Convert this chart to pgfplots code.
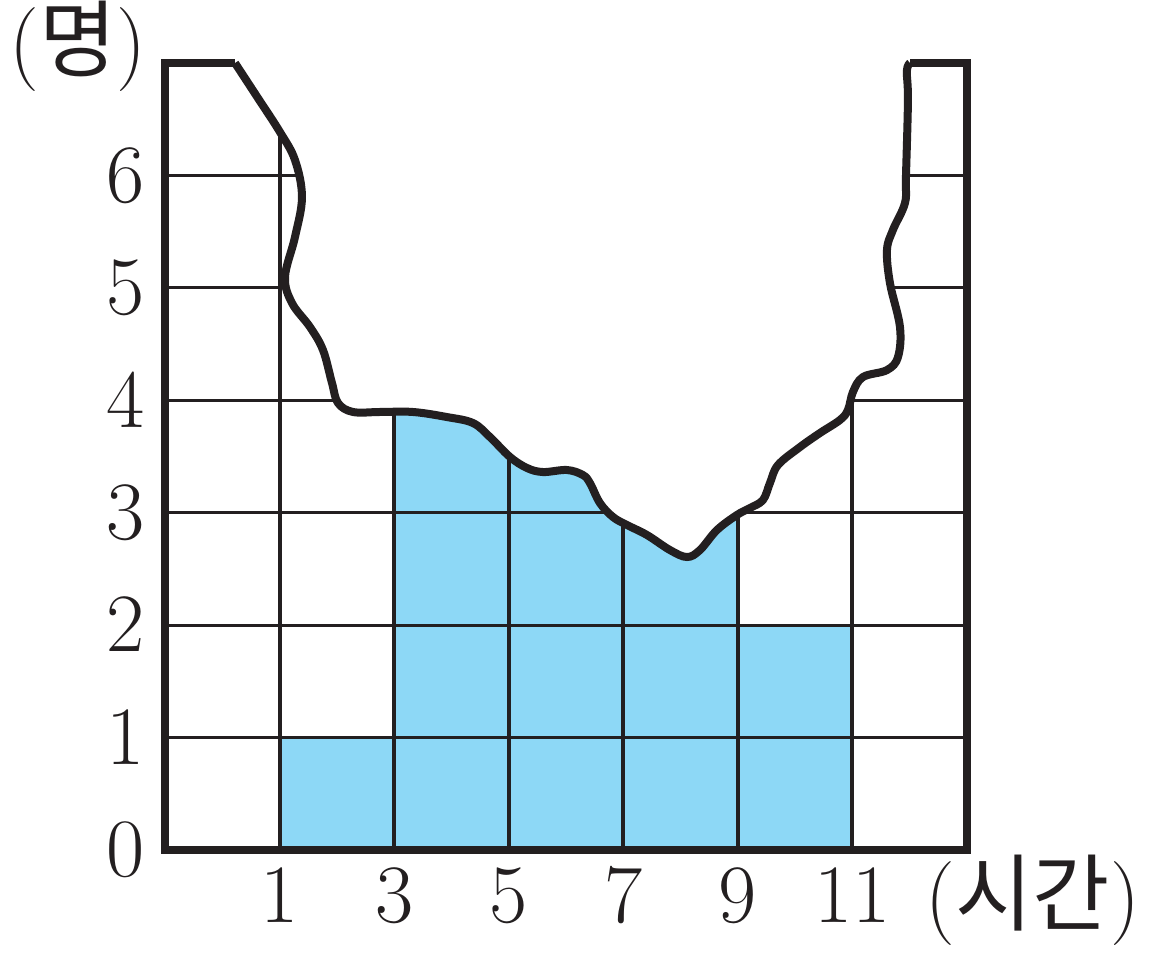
\documentclass[border=0pt]{standalone}
\usepackage{fontspec}
\usepackage{pgfplots}
\pgfplotsset{compat=1.18}
\newfontfamily\cjk{Noto Sans CJK KR}
\definecolor{barblue}{RGB}{141,216,246}
\definecolor{ink}{RGB}{35,31,32}

\begin{document}
\begin{tikzpicture}[x=1pt,y=1pt]
\path[use as bounding box] (-41.25,-26.25) rectangle (246.75,212.5);
\begin{axis}[
  at={(0,0)}, anchor=south west,
  scale only axis, width=200.5pt, height=196.75pt,
  xmin=-1, xmax=13, ymin=0, ymax=7,
  xtick={1,3,5,7,9,11}, ytick={0,1,2,3,4,5,6},
  axis line style={draw=none}, tick style={draw=none}, major tick length=0pt,
  clip=false,
  tick label style={font=\fontsize{22}{24}\selectfont, text=ink, inner sep=0pt},
  xticklabel style={anchor=north, yshift=-4.5pt},
  yticklabel style={anchor=east, xshift=-5pt},
]
% histogram bars
\addplot[fill=barblue, draw=none, const plot] coordinates {(1,1) (3,4) (5,4) (7,3.2) (9,2) (11,2)} \closedcycle;
% horizontal grid lines
\pgfplotsinvokeforeach{1,2,3,4,5,6}{
  \addplot[ink, line width=0.75pt] coordinates {(-1,#1) (13,#1)};
}
% vertical grid lines
\pgfplotsinvokeforeach{1,3,5,7,9,11}{
  \addplot[ink, line width=1pt] coordinates {(#1,0) (#1,7)};
}
% torn region (white)
\addplot[fill=white, draw=none, smooth, tension=0.6] coordinates {
 (0.222,7) (0.62,6.69) (1.007,6.386) (1.269,6.137) (1.391,5.808) (1.269,5.452) (1.095,5.097)
 (1.217,4.865) (1.531,4.652) (1.758,4.447) (1.915,4.154) (2.020,3.976) (2.282,3.896)
 (2.753,3.896) (3.329,3.896) (3.922,3.851) (4.376,3.798) (4.673,3.673) (5.022,3.496)
 (5.319,3.398) (5.598,3.362) (6.017,3.380) (6.296,3.335) (6.418,3.264) (6.593,3.086)
 (6.820,2.962) (7.064,2.891) (7.413,2.802) (7.815,2.668) (8.112,2.606) (8.338,2.668)
 (8.635,2.846) (8.984,2.980) (9.211,3.042) (9.438,3.113) (9.560,3.264) (9.700,3.424)
 (10.084,3.584) (10.433,3.709) (10.782,3.825) (10.922,3.914) (11.009,4.074) (11.184,4.207)
 (11.603,4.269) (11.795,4.385) (11.830,4.652) (11.655,5.043) (11.603,5.337) (11.707,5.515)
 (11.917,5.755) (11.934,5.986) (11.969,6.671) (11.95,6.93) (12.004,7)
} -- cycle;
% torn edge line
\addplot[ink, line width=2pt, smooth, tension=0.6] coordinates {
 (0.222,7) (0.62,6.69) (1.007,6.386) (1.269,6.137) (1.391,5.808) (1.269,5.452) (1.095,5.097)
 (1.217,4.865) (1.531,4.652) (1.758,4.447) (1.915,4.154) (2.020,3.976) (2.282,3.896)
 (2.753,3.896) (3.329,3.896) (3.922,3.851) (4.376,3.798) (4.673,3.673) (5.022,3.496)
 (5.319,3.398) (5.598,3.362) (6.017,3.380) (6.296,3.335) (6.418,3.264) (6.593,3.086)
 (6.820,2.962) (7.064,2.891) (7.413,2.802) (7.815,2.668) (8.112,2.606) (8.338,2.668)
 (8.635,2.846) (8.984,2.980) (9.211,3.042) (9.438,3.113) (9.560,3.264) (9.700,3.424)
 (10.084,3.584) (10.433,3.709) (10.782,3.825) (10.922,3.914) (11.009,4.074) (11.184,4.207)
 (11.603,4.269) (11.795,4.385) (11.830,4.652) (11.655,5.043) (11.603,5.337) (11.707,5.515)
 (11.917,5.755) (11.934,5.986) (11.969,6.671) (11.95,6.93) (12.004,7)
};
% frame
\addplot[ink, line width=1.8pt, line join=miter] coordinates {(0.222,7) (-1,7) (-1,0) (13,0) (13,7) (12.004,7)};
\node[font=\fontsize{21}{24}\selectfont, text=ink, inner sep=0pt] at (axis cs:-2.52,7.15) {({\cjk 명})};
\node[font=\fontsize{21}{24}\selectfont, text=ink, inner sep=0pt] at (axis cs:14.15,-0.45) {({\cjk 시간})};
\end{axis}
\end{tikzpicture}
\end{document}
